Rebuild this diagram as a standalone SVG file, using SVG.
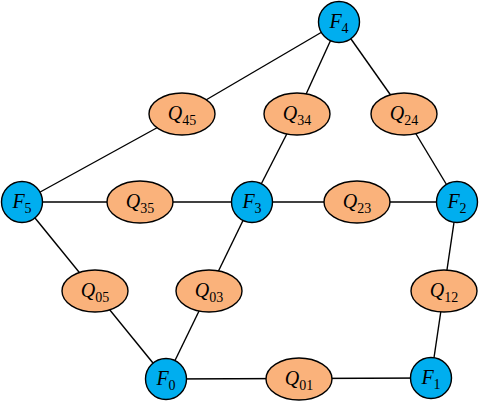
<svg xmlns="http://www.w3.org/2000/svg" width="487" height="404" viewBox="0 0 487 404">
<style>
.e{stroke:#000;stroke-width:1.4;fill:none}
.f{fill:#00AEEF;stroke:#000;stroke-width:1.4}
.q{fill:#FAB27B;stroke:#000;stroke-width:1.4}
text{font-family:"Liberation Serif","DejaVu Serif",serif;font-size:20px;text-anchor:middle}
.i{font-style:italic}
.s{font-size:14px;font-style:normal}
</style>
<rect width="487" height="404" fill="#fff"/>
<g id="edges">
<line class="e" x1="339" y1="22" x2="182" y2="114"/>
<line class="e" x1="182" y1="114" x2="22" y2="202"/>
<line class="e" x1="339" y1="22" x2="297" y2="114"/>
<line class="e" x1="297" y1="114" x2="252" y2="202"/>
<line class="e" x1="339" y1="22" x2="404" y2="114"/>
<line class="e" x1="404" y1="114" x2="457" y2="202"/>
<line class="e" x1="22" y1="202" x2="252" y2="202"/>
<line class="e" x1="252" y1="202" x2="457" y2="202"/>
<line class="e" x1="22" y1="202" x2="166" y2="379"/>
<line class="e" x1="252" y1="202" x2="166" y2="379"/>
<line class="e" x1="457" y1="202" x2="431" y2="378"/>
<line class="e" x1="166" y1="379" x2="431" y2="378"/>
</g>
<g id="F4"><circle class="f" cx="339" cy="22" r="20.5"/><text x="339" y="28"><tspan class="i">F</tspan><tspan class="s" dy="5">4</tspan></text></g>
<g id="F5"><circle class="f" cx="22" cy="202" r="20.5"/><text x="22" y="208"><tspan class="i">F</tspan><tspan class="s" dy="5">5</tspan></text></g>
<g id="F3"><circle class="f" cx="252" cy="202" r="20.5"/><text x="252" y="208"><tspan class="i">F</tspan><tspan class="s" dy="5">3</tspan></text></g>
<g id="F2"><circle class="f" cx="457" cy="202" r="20.5"/><text x="457" y="208"><tspan class="i">F</tspan><tspan class="s" dy="5">2</tspan></text></g>
<g id="F0"><circle class="f" cx="166" cy="379" r="20.5"/><text x="166" y="385"><tspan class="i">F</tspan><tspan class="s" dy="5">0</tspan></text></g>
<g id="F1"><circle class="f" cx="431" cy="378" r="20.5"/><text x="431" y="384"><tspan class="i">F</tspan><tspan class="s" dy="5">1</tspan></text></g>
<g id="Q45"><ellipse class="q" cx="182" cy="114" rx="33" ry="21"/><text x="182" y="120"><tspan class="i">Q</tspan><tspan class="s" dy="5">45</tspan></text></g>
<g id="Q34"><ellipse class="q" cx="297" cy="114" rx="33" ry="21"/><text x="297" y="120"><tspan class="i">Q</tspan><tspan class="s" dy="5">34</tspan></text></g>
<g id="Q24"><ellipse class="q" cx="404" cy="114" rx="33" ry="21"/><text x="404" y="120"><tspan class="i">Q</tspan><tspan class="s" dy="5">24</tspan></text></g>
<g id="Q35"><ellipse class="q" cx="140" cy="202" rx="33" ry="21"/><text x="140" y="208"><tspan class="i">Q</tspan><tspan class="s" dy="5">35</tspan></text></g>
<g id="Q23"><ellipse class="q" cx="357" cy="202" rx="33" ry="21"/><text x="357" y="208"><tspan class="i">Q</tspan><tspan class="s" dy="5">23</tspan></text></g>
<g id="Q05"><ellipse class="q" cx="95" cy="291" rx="33" ry="21"/><text x="95" y="297"><tspan class="i">Q</tspan><tspan class="s" dy="5">05</tspan></text></g>
<g id="Q03"><ellipse class="q" cx="209" cy="291" rx="33" ry="21"/><text x="209" y="297"><tspan class="i">Q</tspan><tspan class="s" dy="5">03</tspan></text></g>
<g id="Q12"><ellipse class="q" cx="444" cy="291" rx="33" ry="21"/><text x="444" y="297"><tspan class="i">Q</tspan><tspan class="s" dy="5">12</tspan></text></g>
<g id="Q01"><ellipse class="q" cx="299" cy="379" rx="33" ry="21"/><text x="299" y="385"><tspan class="i">Q</tspan><tspan class="s" dy="5">01</tspan></text></g>
</svg>
